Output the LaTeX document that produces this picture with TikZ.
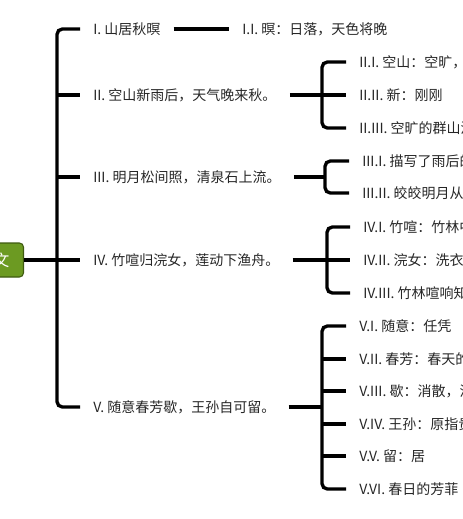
\documentclass[tikz,border=0pt]{standalone}
\usepackage{fontspec}
\newfontfamily\cjk{Noto Sans CJK SC}
\usetikzlibrary{positioning}
\definecolor{rootgreen}{HTML}{6C9A22}
\definecolor{rootedge}{HTML}{3E5A10}
\definecolor{txtgray}{HTML}{262626}
\tikzset{
  rootbox/.style={rectangle, rounded corners=3pt, draw=rootedge, fill=rootgreen, line width=0.8pt,
                  text=white, minimum height=25.5pt, inner xsep=10.5pt, font=\cjk\fontsize{12pt}{14pt}\selectfont},
  topic/.style={anchor=west, inner xsep=9.75pt, inner ysep=2pt, text=txtgray,
                font=\cjk\fontsize{10.5pt}{12pt}\selectfont},
  conn/.style={draw=black, line width=2.5pt, rounded corners=4pt},
}

\begin{document}
\begin{tikzpicture}[x=0.75pt, y=-0.75pt]
  \useasboundingbox (0,0) rectangle (462,519);
  \clip (0,0) rectangle (462,519);

  % root and first level
  \node[rootbox, anchor=east] (root) at (24,260) {文};
  \coordinate (spine) at (57,260);
  \node[topic] (sec1) at (80,29) {I. 山居秋暝};
  \node[topic] (sec2) at (80,95) {II. 空山新雨后，天气晚来秋。};
  \node[topic] (sec3) at (80,177) {III. 明月松间照，清泉石上流。};
  \node[topic] (sec4) at (80,260) {IV. 竹喧归浣女，莲动下渔舟。};
  \node[topic] (sec5) at (80,407) {V. 随意春芳歇，王孙自可留。};

  \draw[conn] (root.east) -- (spine);
  \draw[conn] (sec1.west) -| (spine) |- (sec5.west);
  \draw[conn] (spine |- sec2.west) -- (sec2.west);
  \draw[conn] (spine |- sec3.west) -- (sec3.west);
  \draw[conn] (spine) -- (sec4.west);

  % I
  \node[topic] (sub11) at (229,29) {I.I. 暝：日落，天色将晚};
  \draw[conn] (sec1.east) -- (sub11.west);

  % II
  \coordinate (j2) at (322,95);
  \node[topic] (sub21) at (346,62) {II.I. 空山：空旷，};
  \node[topic] (sub22) at (346,95) {II.II. 新：刚刚};
  \node[topic] (sub23) at (346,128) {II.III. 空旷的群山沐};
  \draw[conn] (sec2.east) -- (j2);
  \draw[conn] (sub21.west) -| (j2) |- (sub23.west);
  \draw[conn] (j2) -- (sub22.west);

  % III
  \coordinate (j3) at (325,177);
  \node[topic] (sub31) at (349,161) {III.I. 描写了雨后的};
  \node[topic] (sub32) at (349,193) {III.II. 皎皎明月从松};
  \draw[conn] (sec3.east) -- (j3);
  \draw[conn] (sub31.west) -| (j3) |- (sub32.west);

  % IV
  \coordinate (j4) at (327,260);
  \node[topic] (sub41) at (350,227) {IV.I. 竹喧：竹林中};
  \node[topic] (sub42) at (350,260) {IV.II. 浣女：洗衣};
  \node[topic] (sub43) at (350,293) {IV.III. 竹林喧响知};
  \draw[conn] (sec4.east) -- (j4);
  \draw[conn] (sub41.west) -| (j4) |- (sub43.west);
  \draw[conn] (j4) -- (sub42.west);

  % V
  \coordinate (j5) at (322,407);
  \node[topic] (sub51) at (346,326) {V.I. 随意：任凭};
  \node[topic] (sub52) at (346,359) {V.II. 春芳：春天的};
  \node[topic] (sub53) at (346,391) {V.III. 歇：消散，消};
  \node[topic] (sub54) at (346,424) {V.IV. 王孙：原指贵};
  \node[topic] (sub55) at (346,456) {V.V. 留：居};
  \node[topic] (sub56) at (346,489) {V.VI. 春日的芳菲};
  \draw[conn] (sec5.east) -- (j5);
  \draw[conn] (sub51.west) -| (j5) |- (sub56.west);
  \foreach \k in {2,3,4,5}
    \draw[conn] (j5 |- sub5\k.west) -- (sub5\k.west);

\end{tikzpicture}
\end{document}
